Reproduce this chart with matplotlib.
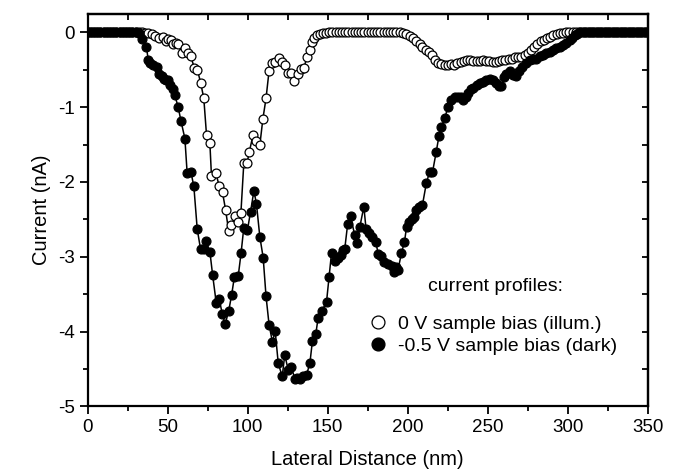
import matplotlib
matplotlib.use("Agg")
import matplotlib.pyplot as plt
from matplotlib.ticker import MultipleLocator

plt.rcParams["font.family"] = ["Liberation Sans", "DejaVu Sans"]
plt.rcParams["axes.unicode_minus"] = False

# 0 V sample bias (illuminated) - open circles
x_illum = [0, 2, 4, 6, 8, 10, 12, 14, 16, 18, 20, 22, 24, 26, 28, 30, 32, 34,
           36, 38, 40.4, 42, 44.7, 47.2, 48.9, 50.5, 52.4, 53.5, 55, 56.6, 58.7,
           60.8, 62.5, 64.5, 66.6, 68.6, 70.6, 72.6, 74.3, 76.4, 77.4, 80.1, 82.2,
           84.3, 86.2, 88.1, 89.9, 92.0, 93.7, 95.8, 97.6, 99.7, 101.0, 103.4,
           105.3, 107.6, 109.5, 111.5, 113.4, 115.0, 117.0, 119.5, 121.2, 123.2,
           125.3, 127.4, 129.0, 131.5, 133.6, 135.1, 137.2, 138.9, 140.2, 141.6,
           143.2, 145.1, 147, 149, 151, 153, 155, 157, 159, 161, 163, 165, 167, 169,
           171, 173, 175, 177, 179, 181, 183, 185, 187, 189, 191, 193, 195, 197,
           199.2, 201.3, 203.4, 205.5, 207.6, 209.2, 211.3, 213.4, 215.5, 217, 219,
           221, 223, 225, 227, 229, 231, 233, 235, 237, 239, 241, 243, 245, 247, 249,
           251, 253, 255, 257, 259, 261, 263, 265, 267, 269, 271, 273, 275, 277, 279,
           281, 283, 285, 287, 289, 291, 293, 295, 297, 299, 301, 303, 305, 307, 309,
           311, 313, 315, 317, 319, 321, 323, 325, 327, 329, 331, 333, 335, 337, 339,
           341, 343, 345, 347, 349]
y_illum = [0, 0, 0, 0, 0, 0, 0, 0, 0, 0, 0, 0, 0, 0, 0, 0, 0, 0,
           -0.01, -0.01, -0.02, -0.05, -0.08, -0.06, -0.11, -0.09, -0.10, -0.16,
           -0.14, -0.16, -0.27, -0.21, -0.28, -0.32, -0.47, -0.50, -0.67, -0.88,
           -1.37, -1.48, -1.92, -1.88, -2.05, -2.14, -2.37, -2.65, -2.58, -2.46,
           -2.53, -2.41, -1.75, -1.74, -1.60, -1.37, -1.45, -1.51, -1.16, -0.88,
           -0.51, -0.41, -0.40, -0.34, -0.39, -0.44, -0.54, -0.54, -0.65, -0.55,
           -0.49, -0.47, -0.33, -0.24, -0.13, -0.08, -0.04, -0.02, -0.01, -0.01,
           0, 0, 0, 0, 0, 0, 0, 0, 0, 0, 0, 0, 0, 0, 0, 0, 0, 0, 0, 0, 0, 0, 0,
           -0.01, -0.02, -0.05, -0.08, -0.11, -0.15, -0.19, -0.23, -0.26, -0.30,
           -0.37, -0.41, -0.42, -0.43, -0.43, -0.42, -0.43, -0.41, -0.39, -0.38,
           -0.37, -0.37, -0.38, -0.38, -0.38, -0.37, -0.38, -0.38, -0.39, -0.39,
           -0.38, -0.37, -0.37, -0.36, -0.35, -0.33, -0.33, -0.33, -0.30, -0.28,
           -0.24, -0.20, -0.16, -0.12, -0.10, -0.08, -0.06, -0.04, -0.02, -0.01,
           -0.01, 0, 0, 0, 0, 0, 0, 0, 0, 0, 0, 0, 0, 0, 0, 0, 0, 0, 0, 0, 0, 0,
           0, 0, 0, 0, 0]

# -0.5 V sample bias (dark) - filled circles
x_dark = [0, 2, 4, 6, 8, 10, 12, 14, 16, 18, 20, 22, 24, 26, 28, 30, 32, 34.3,
          36.8, 37.9, 39.3, 41.0, 43.1, 44.7, 46.2, 47.8, 49.0, 50.3, 51.7, 53.1,
          54.5, 56.6, 58.4, 60.8, 62.2, 64.5, 66.4, 68.5, 70.6, 72.6, 73.9, 76.4,
          78.1, 80.4, 82.2, 84.2, 86.0, 88.2, 90.0, 91.7, 94.1, 95.9, 97.6, 99.9,
          101.8, 103.9, 105.5, 107.6, 109.7, 111.5, 113.4, 115.5, 117.2, 119.1,
          121.6, 123.2, 125.3, 127.4, 129.5, 131.0, 132.6, 134.7, 136.8, 138.9,
          140.5, 142.6, 144.0, 146.5, 149.3, 150.9, 152.4, 154.5, 156.5, 158.3,
          159.7, 160.7, 162.5, 164.3, 166.9, 168.4, 170.1, 172.6, 174.0, 175.8,
          177.9, 180.0, 181.6, 183.1, 185.3, 187.8, 189.9, 191.4, 192.6, 194.0,
          196.1, 198.0, 199.3, 200.9, 202.4, 203.8, 205.5, 207.3, 209.2, 211.7,
          213.8, 215.5, 217.8, 219.5, 221.1, 223.2, 225.2, 227.3, 229.3, 231.5,
          233.0, 234.6, 236.2, 237.7, 239.3, 240.9, 243.0, 245.0, 247.1, 249.2,
          251.3, 253.3, 255.4, 257.1, 258.6, 260.3, 261.7, 263.8, 265.8, 267.5,
          269.3, 271.4, 274.2, 276.3, 278.3, 280.4, 282.5, 284.6, 286.7, 288.8,
          290.8, 292.9, 295.0, 297.1, 299.2, 301.2, 302.8, 304.4, 306, 307.5,
          310, 312, 314, 316, 318, 320, 322, 324, 326, 328, 330, 332, 334, 336,
          338, 340, 342, 344, 346, 348, 350]
y_dark = [0, 0, 0, 0, 0, 0, 0, 0, 0, 0, 0, 0, 0, 0, 0, 0, -0.01, -0.09,
          -0.20, -0.37, -0.41, -0.44, -0.46, -0.55, -0.58, -0.62, -0.64, -0.64,
          -0.70, -0.76, -0.84, -1.00, -1.19, -1.42, -1.88, -1.86, -2.06, -2.63,
          -2.90, -2.90, -2.79, -2.93, -3.24, -3.62, -3.56, -3.77, -3.90, -3.72,
          -3.51, -3.27, -3.26, -2.95, -2.61, -2.64, -2.40, -2.12, -2.29, -2.73,
          -3.01, -3.53, -3.91, -4.14, -3.99, -4.42, -4.60, -4.31, -4.51, -4.48,
          -4.63, -4.62, -4.63, -4.60, -4.58, -4.42, -4.12, -4.03, -3.82, -3.72,
          -3.60, -3.27, -2.95, -3.06, -3.02, -2.98, -2.91, -2.89, -2.56, -2.46,
          -2.71, -2.81, -2.60, -2.33, -2.63, -2.68, -2.73, -2.80, -2.96, -2.99,
          -3.07, -3.10, -3.12, -3.20, -3.14, -3.17, -2.95, -2.80, -2.60, -2.53,
          -2.50, -2.47, -2.38, -2.33, -2.31, -2.01, -1.86, -1.87, -1.60, -1.39,
          -1.26, -1.14, -1.00, -0.91, -0.87, -0.86, -0.86, -0.90, -0.86, -0.81,
          -0.76, -0.74, -0.70, -0.68, -0.66, -0.63, -0.62, -0.64, -0.68, -0.72,
          -0.72, -0.60, -0.55, -0.51, -0.57, -0.58, -0.52, -0.46, -0.41, -0.37,
          -0.36, -0.35, -0.32, -0.30, -0.28, -0.26, -0.23, -0.21, -0.19, -0.17,
          -0.14, -0.10, -0.07, -0.04, -0.02, 0, 0, 0, 0, 0, 0, 0, 0, 0, 0, 0, 0,
          0, 0, 0, 0, 0, 0, 0, 0, 0, 0]

fig = plt.figure(figsize=(6.79, 4.72), dpi=100)
ax = fig.add_axes([0.129, 0.139, 0.825, 0.832])

ax.plot(x_illum, y_illum, "-o", color="black", lw=1.1, ms=6.4,
        mfc="white", mec="black", mew=0.9, label="0 V sample bias (illum.)",
        zorder=2)
ax.plot(x_dark, y_dark, "-o", color="black", lw=1.1, ms=6.4,
        mfc="black", mec="black", mew=0.9, label="-0.5 V sample bias (dark)",
        zorder=3)

ax.set_xlim(0, 350)
ax.set_ylim(-5, 0.25)
ax.xaxis.set_major_locator(MultipleLocator(50))
ax.xaxis.set_minor_locator(MultipleLocator(25))
ax.yaxis.set_major_locator(MultipleLocator(1))
ax.yaxis.set_minor_locator(MultipleLocator(0.5))
ax.tick_params(which="major", direction="out", length=6, width=1.3,
               labelsize=13.5, pad=3)
ax.tick_params(which="minor", direction="out", length=3.5, width=1.3)
for s in ax.spines.values():
    s.set_linewidth(1.6)

# inward ticks on top and right, no labels
top = ax.secondary_xaxis("top")
top.xaxis.set_major_locator(MultipleLocator(25))
top.tick_params(direction="in", length=4, width=1.3, labeltop=False)
right = ax.secondary_yaxis("right")
right.yaxis.set_major_locator(MultipleLocator(0.5))
right.tick_params(direction="in", length=4, width=1.3, labelright=False)
top.spines["top"].set_linewidth(1.6)
right.spines["right"].set_linewidth(1.6)

ax.set_xlabel("Lateral Distance (nm)", fontsize=14.5, labelpad=10)
ax.set_ylabel("Current (nA)", fontsize=14.5, labelpad=5)

ax.text(0.729, 0.306, "current profiles:", transform=ax.transAxes,
        ha="center", va="center", fontsize=14)
leg = ax.legend(loc="upper left", bbox_to_anchor=(0.477, 0.267), frameon=False,
                fontsize=14, markerscale=1.45, handlelength=1.0,
                handletextpad=0.5, labelspacing=0.25, borderpad=0.2)
for h in leg.legend_handles:
    h.set_linestyle("none")

fig.savefig("out.png", dpi=100)
